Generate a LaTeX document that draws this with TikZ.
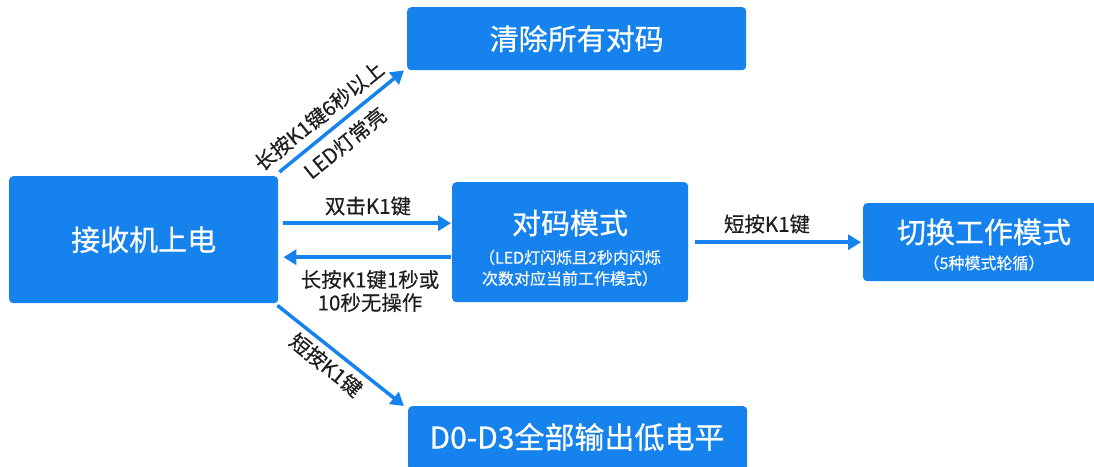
\documentclass[tikz,border=0pt]{standalone}
\usepackage{fontspec}
\setmainfont{Noto Sans CJK SC}
\newfontfamily\tfont[FakeBold=0.6]{Noto Sans CJK SC}
\newfontfamily\lfont[FakeBold=0.3]{Noto Sans CJK SC}
\usetikzlibrary{arrows.meta}
\definecolor{bblue}{HTML}{1682EE}
\definecolor{ink}{HTML}{1E1E1E}
\tikzset{
  box/.style={fill=bblue, rounded corners=4pt, inner sep=0pt, anchor=north west},
  ttl/.style={text=white, font=\tfont\fontsize{29}{32}\selectfont},
  sub/.style={text=white, font=\lfont\fontsize{16}{21}\selectfont, align=center},
  lbl/.style={text=ink, font=\lfont\fontsize{20.5}{23}\selectfont, align=center, inner sep=0pt},
  arr/.style={draw=bblue, line width=3.5pt, -{Triangle[length=13pt,width=15pt]}},
}
\begin{document}
\begin{tikzpicture}[x=1pt,y=-1pt]
\useasboundingbox (0,0) rectangle (1094,466);
% boxes
\node[box, minimum width=269pt, minimum height=127pt] (recv) at (9,176) {};
\node[box, minimum width=339pt, minimum height=63pt] (clear) at (407,7) {};
\node[box, minimum width=236pt, minimum height=120pt] (pair) at (452,182) {};
\node[box, minimum width=240pt, minimum height=78pt] (switch) at (863,203) {};
\node[box, minimum width=339pt, minimum height=64pt] (dout) at (408,406) {};
% box texts
\node[ttl] (trecv) at (recv.center) {接收机上电};
\node[ttl] (tclear) at (clear.center) {清除所有对码};
\node[ttl] (tpair) at (570,223) {对码模式};
\node[sub] (spair) at (570,268) {（LED灯闪烁且2秒内闪烁\\次数对应当前工作模式）};
\node[ttl] (tswitch) at (984,232) {切换工作模式};
\node[sub] (sswitch) at (984,263) {（5种模式轮循）};
\node[ttl, font=\tfont\fontsize{30}{32}\selectfont] (tdout) at (577,437) {D0-D3全部输出低电平};
% connectors
\draw[arr] ([xshift=1pt,yshift=4pt]recv.north east) -- ([xshift=-3pt]clear.south west);
\draw[arr] ([xshift=5pt,yshift=16.5pt]recv.east) -- ([xshift=-1pt,yshift=16.5pt]recv.east -| pair.west);
\draw[arr] ([xshift=-1pt,yshift=-17.5pt]recv.east -| pair.west) -- ([xshift=5pt,yshift=-17.5pt]recv.east);
\draw[arr] ([xshift=7pt]pair.east) -- ([xshift=-2pt]pair.east -| switch.west);
\draw[arr] ([xshift=-1pt,yshift=-2pt]recv.south east) -- ([xshift=-4pt]dout.north west);
% labels
\node[lbl, rotate=39] (l1) at (319,116) {长按K1键6秒以上};
\node[lbl, rotate=39] (l2) at (345,143) {LED灯常亮};
\node[lbl] (l3) at (368,206) {双击K1键};
\node[lbl] (l4) at (370,291) {长按K1键1秒或\\10秒无操作};
\node[lbl] (l5) at (767,224) {短按K1键};
\node[lbl, rotate=-39] (l6) at (326,365) {短按K1键};
\end{tikzpicture}
\end{document}
